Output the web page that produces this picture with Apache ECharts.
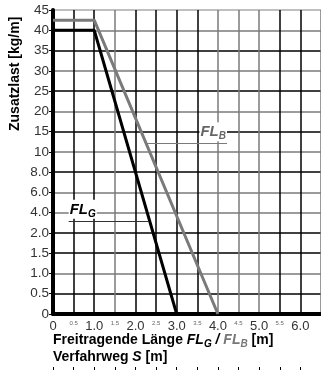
<!DOCTYPE html>
<html>
<head>
<meta charset="utf-8">
<script src="https://cdn.jsdelivr.net/npm/echarts@6/dist/echarts.min.js"></script>
<style>
html, body { margin: 0; padding: 0; background: #fff; }
#chart { width: 321px; height: 370px; }
</style>
</head>
<body>
<div id="chart"></div>
<script>
// y tick labels, every step has the same height on the chart
const yTickLabels = ['0', '0.5', '1.0', '1.5', '2.0', '4.0', '6.0', '8.0', '10', '15', '20', '25', '30', '35', '40', '45'];
const yTickValues = [0, 0.5, 1, 1.5, 2, 4, 6, 8, 10, 15, 20, 25, 30, 35, 40, 45];

// FL_G (black)
const flgX = [0, 1.0, 3.0];
const flgY = [40, 40, 0];
// FL_B (grey)
const flbX = [0, 1.0, 4.0];
const flbY = [42.5, 42.5, 0];

// value -> position on the stepped y axis
const yPos = (v) => {
  for (let i = 1; i < yTickValues.length; i++) {
    if (v <= yTickValues[i]) {
      const a = yTickValues[i - 1], b = yTickValues[i];
      return i - 1 + (v - a) / (b - a);
    }
  }
  return yTickValues.length - 1;
}

const font = 'Liberation Sans';
const dark = '#000';
const grey = '#7a7a7a';

const xLineColors = [dark, dark, dark, grey, dark, dark, dark, dark, grey, grey, grey, dark, dark, grey];
const yLineColors = [dark, dark, grey, dark, dark, grey, grey, dark, grey, dark, grey, dark, grey, dark, grey, '#aaa'];

const option = {
  animation: false,
  textStyle: { fontFamily: font },
  grid: [
    { left: 53, right: -3, top: 10, bottom: 56 },
    { left: 53, right: -3, top: 366, height: 1 }
  ],
  xAxis: [
    {
      type: 'value',
      min: 0,
      max: 6.5,
      interval: 0.5,
      axisLine: { show: true, lineStyle: { color: '#000', width: 4 } },
      axisTick: { show: false },
      splitLine: { show: true, lineStyle: { color: xLineColors, width: 1.5 } },
      axisLabel: {
        margin: 6,
        showMaxLabel: false,
        formatter: (v) => {
          if (v === 0) return '{a|0}';
          if (v % 1 === 0) return '{a|' + v.toFixed(1) + '}';
          return '{b|' + v.toFixed(1) + '}';
        },
        rich: {
          a: { fontSize: 13, color: '#333', fontFamily: font },
          b: { fontSize: 6, color: '#666', fontFamily: font }
        }
      }
    },
    {
      type: 'value',
      gridIndex: 1,
      min: 0,
      max: 6.5,
      interval: 0.5,
      axisLine: { show: false },
      axisTick: { show: true, length: 6, lineStyle: { color: '#000', width: 1 } },
      axisLabel: { show: false },
      splitLine: { show: false }
    }
  ],
  yAxis: [
    {
      type: 'value',
      min: 0,
      max: 15,
      interval: 1,
      axisLine: { show: true, lineStyle: { color: '#000', width: 4 } },
      axisTick: { show: true, length: 4, lineStyle: { color: '#000' } },
      minorTick: { show: true, splitNumber: 4, length: 2, lineStyle: { color: '#000' } },
      splitLine: { show: true, lineStyle: { color: yLineColors, width: 1.5 } },
      axisLabel: {
        margin: 4,
        fontSize: 13.5,
        color: '#333',
        formatter: (v) => yTickLabels[v]
      }
    },
    { type: 'value', gridIndex: 1, show: false }
  ],
  series: [
    {
      name: 'FL_B',
      type: 'line',
      symbol: 'none',
      data: flbX.map((x, i) => [x, yPos(flbY[i])]),
      lineStyle: { color: grey, width: 3 },
      markLine: {
        silent: true,
        symbol: 'none',
        lineStyle: { color: grey, width: 1.2, type: 'solid' },
        label: {
          show: true,
          position: 'insideEndTop',
          distance: [0, 2],
          formatter: '{a|FL}{b|B}',
          backgroundColor: '#fff',
          padding: [1, 1, 0, 1],
          rich: {
            a: { fontSize: 15, fontWeight: 'bold', fontStyle: 'italic', color: '#666', fontFamily: font },
            b: { fontSize: 10, fontWeight: 'bold', fontStyle: 'italic', color: '#666', fontFamily: font, padding: [8, 0, 0, 0] }
          }
        },
        data: [[{ coord: [2.25, 8.42] }, { coord: [4.22, 8.42] }]]
      }
    },
    {
      name: 'FL_G',
      type: 'line',
      symbol: 'none',
      data: flgX.map((x, i) => [x, yPos(flgY[i])]),
      lineStyle: { color: '#000', width: 3 },
      markLine: {
        silent: true,
        symbol: 'none',
        lineStyle: { color: '#333', width: 1.2, type: 'solid' },
        label: {
          show: true,
          position: 'insideStartTop',
          distance: [0, 2],
          formatter: '{a|FL}{b|G}',
          backgroundColor: '#fff',
          padding: [1, 1, 0, 1],
          rich: {
            a: { fontSize: 15, fontWeight: 'bold', fontStyle: 'italic', color: '#000', fontFamily: font },
            b: { fontSize: 10, fontWeight: 'bold', fontStyle: 'italic', color: '#000', fontFamily: font, padding: [8, 0, 0, 0] }
          }
        },
        data: [[{ coord: [0.38, 4.6] }, { coord: [2.33, 4.6] }]]
      }
    }
  ],
  graphic: [
    {
      type: 'text',
      x: 8,
      y: 131,
      rotation: Math.PI / 2,
      style: {
        text: 'Zusatzlast [kg/m]',
        font: 'bold 14px "Liberation Sans"',
        fill: '#000',
        verticalAlign: 'top'
      }
    },
    {
      type: 'text',
      x: 53,
      y: 332,
      style: {
        text: '{n|Freitragende Länge }{i|FL}{s|G}{i| / }{gi|FL}{gs|B}{n| [m]}',
        fill: '#000',
        rich: {
          n: { fontSize: 14, fontWeight: 'bold', fontFamily: font, fill: '#000' },
          i: { fontSize: 14, fontWeight: 'bold', fontStyle: 'italic', fontFamily: font, fill: '#000' },
          s: { fontSize: 10, fontWeight: 'bold', fontStyle: 'italic', fontFamily: font, fill: '#000', padding: [7, 0, 0, 0] },
          gi: { fontSize: 14, fontWeight: 'bold', fontStyle: 'italic', fontFamily: font, fill: '#777' },
          gs: { fontSize: 10, fontWeight: 'bold', fontStyle: 'italic', fontFamily: font, fill: '#777', padding: [7, 0, 0, 0] }
        }
      }
    },
    {
      type: 'text',
      x: 53,
      y: 350,
      style: {
        text: '{n|Verfahrweg }{i|S}{n| [m]}',
        rich: {
          n: { fontSize: 14, fontWeight: 'bold', fontFamily: font, fill: '#000' },
          i: { fontSize: 14, fontWeight: 'bold', fontStyle: 'italic', fontFamily: font, fill: '#000' }
        }
      }
    }
  ]
};

const chart = echarts.init(document.getElementById('chart'));
chart.setOption(option);
</script>
</body>
</html>
